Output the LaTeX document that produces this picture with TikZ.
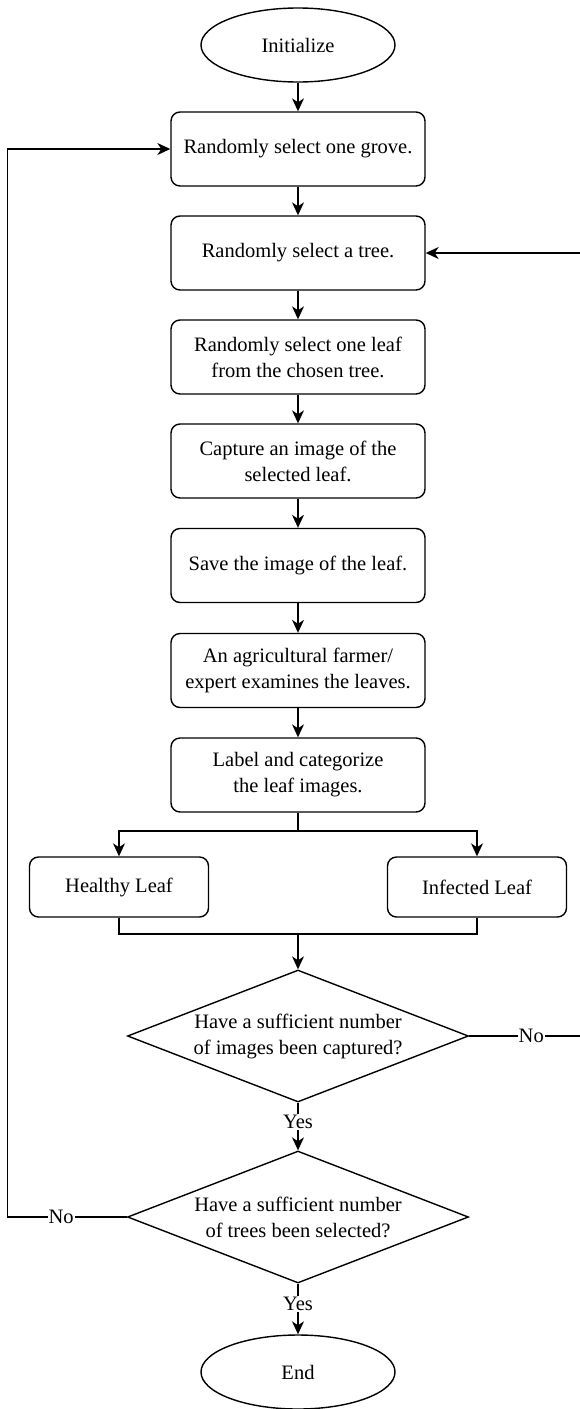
\documentclass[tikz,border=0pt]{standalone}
\usepackage{fontspec}
\setmainfont{Liberation Serif}
\usetikzlibrary{shapes.geometric,arrows.meta}
\begin{document}
\begin{tikzpicture}[x=1pt,y=-1pt,
  every node/.style={font=\fontsize{20.5}{26}\selectfont},
  line/.style={line width=1.4pt},
  arr/.style={line width=1.4pt,-{Stealth[length=13pt,width=12pt,inset=4pt]}},
  procbox/.style={draw,line width=1.4pt,rounded corners=9pt,minimum width=254pt,minimum height=74pt,align=center,inner sep=0pt},
  leafbox/.style={draw,line width=1.4pt,rounded corners=9pt,minimum width=179pt,minimum height=60pt,align=center,inner sep=0pt},
  term/.style={draw,line width=1.4pt,ellipse,minimum width=194pt,minimum height=74pt,inner sep=0pt},
  decision/.style={draw,line width=1.4pt,diamond,aspect=2.59,minimum width=341pt,minimum height=132pt,inner sep=0pt,align=center},
  lbl/.style={fill=white,inner sep=1pt}
]
\useasboundingbox (0,0) rectangle (580,1409);
\node[term] (init) at (298,45) {Initialize};
\node[procbox] (b1) at (298,149) {Randomly select one grove.};
\node[procbox] (b2) at (298,253) {Randomly select a tree.};
\node[procbox] (b3) at (298,357) {Randomly select one leaf\\from the chosen tree.};
\node[procbox] (b4) at (298,461) {Capture an image of the\\selected leaf.};
\node[procbox] (b5) at (298,565.5) {Save the image of the leaf.};
\node[procbox] (b6) at (298,670.5) {An agricultural farmer/\\expert examines the leaves.};
\node[procbox] (b7) at (298,775) {Label and categorize\\the leaf images.};
\node[leafbox] (h) at (119,887) {Healthy Leaf};
\node[leafbox] (inf) at (477,887) {Infected Leaf};
\node[decision] (d1) at (298,1036) {Have a sufficient number\\of images been captured?};
\node[decision] (d2) at (298,1217) {Have a sufficient number\\of trees been selected?};
\node[term] (end) at (298,1372) {End};
\coordinate (split) at (298,831);
\coordinate (merge) at (298,934);
\coordinate (rt) at (582,1036);
\coordinate (lf) at (7.5,1217);

\draw[arr] (init) -- (b1);
\draw[arr] (b1) -- (b2);
\draw[arr] (b2) -- (b3);
\draw[arr] (b3) -- (b4);
\draw[arr] (b4) -- (b5);
\draw[arr] (b5) -- (b6);
\draw[arr] (b6) -- (b7);
\draw[line] (b7.south) -- (split);
\draw[arr] (split) -| (h.north);
\draw[arr] (split) -| (inf.north);
\draw[line] (h.south) |- (merge);
\draw[line] (inf.south) |- (merge);
\draw[arr] (merge) -- (d1.north);
\draw[arr] (d1.south) -- node[lbl,pos=0.4]{Yes} (d2.north);
\draw[arr] (d2.south) -- node[lbl,pos=0.4]{Yes} (end.north);
\draw[arr] (d1.east) -- node[lbl,pos=0.55]{No} (rt) |- (b2.east);
\draw[arr] (d2.west) -- node[lbl,pos=0.55]{No} (lf) |- (b1.west);
\end{tikzpicture}
\end{document}
